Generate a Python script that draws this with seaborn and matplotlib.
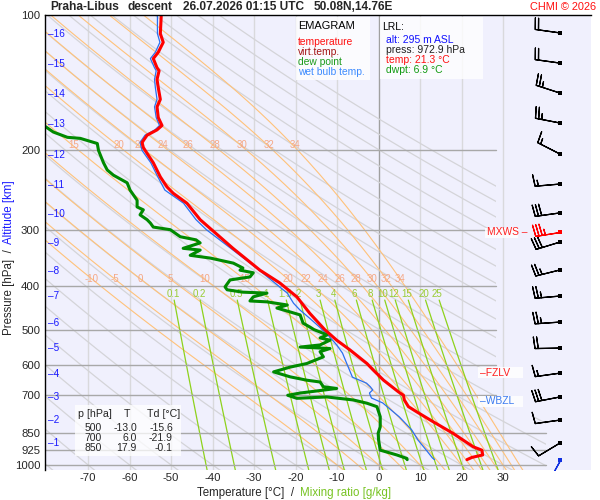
import numpy as np
import matplotlib
matplotlib.use("Agg")
import matplotlib.pyplot as plt
import matplotlib.transforms as mtransforms
from matplotlib.patches import Rectangle, PathPatch
from matplotlib.path import Path
import seaborn as sns

sns.set_style("white")
plt.rcParams['font.family'] = ['Liberation Sans', 'DejaVu Sans']

# ---------------- data ----------------
temp_p = [973, 962, 950, 927, 911, 850, 802, 762, 742, 717, 700, 688, 648, 615, 595,
          555, 528, 500, 460, 423, 394, 369, 330, 285, 262, 249, 241, 229, 213, 203,
          197, 192, 185, 180, 176, 169, 160, 154, 145, 139, 133, 131, 125, 121, 115,
          110, 101, 100]
temp_t = [21.3, 22.5, 25.1, 24.9, 22.8, 17.9, 13.2, 9.2, 7.2, 6.2, 6.0, 4.8, 1.2, -1.3, -2.8,
          -6.9, -10.1, -13.0, -16.6, -19.7, -23.8, -28.6, -35.1, -43.0, -46.2, -49.5, -51.0,
          -52.6, -54.3, -55.8, -56.7, -57.0, -55.8, -53.4, -52.2, -53.1, -53.4, -52.6, -53.1,
          -53.4, -52.9, -53.4, -54.3, -53.1, -51.9, -52.6, -52.4, -52.4]

dwpt_p = [973, 967, 950, 927, 880, 850, 823, 781, 742, 729, 717, 706, 711, 700, 692,
          676, 670, 654, 648, 637, 621, 606, 595, 575, 560, 551, 547, 541, 528, 522,
          514, 500, 494, 484, 464, 457, 448, 441, 434, 432, 423, 415, 413, 408, 402,
          388, 382, 374, 369, 365, 356, 347, 342, 333, 330, 321, 316, 311, 300, 296,
          290, 285, 278, 271, 267, 258, 245, 236, 227, 221, 213, 200, 193, 188, 187,
          182, 177, 172]
dwpt_t = [6.9, 6.8, 4.4, 0.4, 0.0, -0.1, 0.4, 0.4, -0.4, -2.8, -6.1, -12.5, -19.7, -21.9, -18.9,
          -10.1, -13.3, -14.1, -17.3, -21.3, -25.3, -21.3, -17.3, -13.3, -14.1, -11.7, -18.9,
          -14.1, -11.7, -14.1, -12.4, -15.6, -16.5, -18.2, -18.9, -21.3, -24.5, -22.0, -26.9,
          -31.0, -30.2, -26.9, -32.7, -36.5, -37.0, -35.8, -31.0, -30.2, -33.4, -32.7, -35.0,
          -40.5, -45.4, -43.0, -47.1, -43.0, -44.0, -47.8, -50.2, -54.3, -55.0, -55.8, -57.5,
          -56.7, -58.2, -58.2, -59.9, -60.6, -63.9, -65.4, -66.3, -67.5, -67.8, -71.9, -75.0,
          -78.4, -80.3, -84.0]

wetb_p = [973, 965, 927, 880, 836, 782, 728, 710, 700, 692, 681, 670, 658, 638, 594,
          564, 541, 519, 494, 472, 452, 437, 415, 394, 374, 350, 328, 300, 285, 262,
          245, 229, 213, 200, 192, 185, 180, 176, 169, 160, 154, 145, 139, 133, 131,
          125, 121, 115, 110, 100]
wetb_t = [13.5, 13.0, 11.5, 9.5, 8.0, 5.0, 1.0, -1.7, -2.0, -2.2, -1.4, -2.0, -2.9, -6.3, -7.7,
          -8.7, -10.1, -11.8, -14.2, -16.6, -19.0, -20.5, -22.0, -25.0, -28.0, -32.0, -36.0,
          -41.5, -44.0, -47.0, -51.5, -53.2, -54.9, -57.0, -57.5, -56.3, -53.9, -52.8, -53.6,
          -54.0, -53.4, -53.8, -54.0, -53.6, -54.0, -55.0, -53.8, -52.7, -53.3, -53.3]

alt_km = [1, 2, 3, 4, 5, 6, 7, 8, 9, 10, 11, 12, 13, 14, 15, 16]
alt_p = [893.6, 794.5, 706.0, 627.8, 549.9, 483.7, 421.3, 370.7, 321.2, 276.9, 238.7,
         204.7, 174.7, 149.8, 128.5, 110.2]

wind_p = [109.6, 127.9, 149.1, 173.8, 203.7, 237.5, 275.3, 319.6, 368.6, 421.3, 481.3,
          549.9, 625.0, 706.0, 794.7, 893.6]
wind_dir = [278, 278, 288, 281, 297, 265, 262, 253, 256, 265, 266, 269, 262, 259, 262, 239]
wind_spd = [20, 20, 25, 25, 15, 15, 30, 30, 25, 25, 25, 20, 15, 30, 10, 10]
mxws_p, mxws_dir, mxws_spd = 303.5, 261, 35
sfc_p, sfc_dir, sfc_spd = 972.9, 209, 5

fzlv_p = 625.0
wbzl_p = 721.0

x_ticks = [-70, -60, -50, -40, -30, -20, -10, 0, 10, 20, 30]
p_ticks = [100, 200, 300, 400, 500, 600, 700, 850, 925, 1000]
isobar_end = [28.3, 28.3, 28.3, 28.3, 28.3, 28.3, 40.3, 40.3, 40.3]  # for 200..1000

theta_dry_c = list(range(-80, 190, 10))
theta_w_c = [-10, -5, 0, 5, 10, 15, 20, 22, 24, 26, 28, 30, 32, 34]
mix_ratio = [0.1, 0.2, 0.5, 1, 1.5, 2, 3, 4, 6, 8, 10, 12, 15, 20, 25]
mix_labels = ['0.1', '0.2', '0.5', '1', '1.5', '2', '3', '4', '6', '8', '10', '12', '15', '20', '25']

tbl_p = [500, 700, 850]
tbl_t = [-13.0, 6.0, 17.9]
tbl_td = [-15.6, -21.9, -0.1]

# ---------------- figure ----------------
W, H = 600, 500
fig = plt.figure(figsize=(6, 5), dpi=100)
ax = fig.add_axes([45 / W, 30 / H, 546 / W, 455 / H])
ax.set_facecolor('#f0f0fd')
ax.set_yscale('log')
XL = (-80.4, 51.2)
YL = (1026, 100)

def px(x, y):
    return (x / W, 1 - y / H)

clip = PathPatch(Path([(-99, 90), (28.3, 90), (28.3, 780), (40.3, 780), (40.3, 1100),
                       (-99, 1100), (-99, 90)]), transform=ax.transData,
                 facecolor='none', edgecolor='none')
ax.add_patch(clip)

# isotherms
for t in x_ticks:
    ax.plot([t, t], [90, 1100], color='#a0a0a0' if t == 0 else '#d9d9dc', lw=1.0, zorder=1)

# dry adiabats
pg = np.geomspace(1100, 90, 400)
for th in theta_dry_c:
    T = (th + 273.15) * (pg / 1000.0) ** 0.2857 - 273.15
    ln, = ax.plot(T, pg, color='#d4d4d8', lw=0.9, zorder=1.2)
    ln.set_clip_path(clip)

# pseudo-adiabats (RK4)
def moist(thw):
    Rd, Cp, Lv, eps = 287.04, 1005.7, 2.501e6, 0.622
    def f(p, T):
        es = 6.112 * np.exp(17.67 * (T - 273.15) / (T - 29.65))
        rs = eps * es / (p - es)
        return (Rd * T + Lv * rs) / (p * (Cp + Lv * Lv * rs * eps / (Rd * T * T)))
    out = {}
    for direction, pend in ((-1.0, 90.0), (1.0, 1100.0)):
        T = np.array(thw, dtype=float) + 273.15
        p = 1000.0
        ps, Ts = [p], [T.copy()]
        h = direction * 1.0
        while (p > pend) if direction < 0 else (p < pend):
            k1 = f(p, T)
            k2 = f(p + h / 2, T + h / 2 * k1)
            k3 = f(p + h / 2, T + h / 2 * k2)
            k4 = f(p + h, T + h * k3)
            T = T + h / 6 * (k1 + 2 * k2 + 2 * k3 + k4)
            p += h
            ps.append(p)
            Ts.append(T.copy())
        out[direction] = (np.array(ps), np.array(Ts) - 273.15)
    pu, Tu = out[-1.0]
    pd_, Td_ = out[1.0]
    P = np.concatenate([pd_[::-1], pu[1:]])
    TT = np.concatenate([Td_[::-1], Tu[1:]], axis=0)
    return P, TT

Pm, Tm = moist(theta_w_c)
OR = '#ffc27a'
ORL = '#f5a886'
for i, tw in enumerate(theta_w_c):
    ln, = ax.plot(Tm[:, i], Pm, color=OR, lw=0.8, zorder=1.5)
    ln.set_clip_path(clip)
    pr = Pm[::-1]
    tr = Tm[::-1, i]
    t1 = np.interp(194, pr, tr)
    t2 = np.interp(386, pr, tr)
    if t1 > -77:
        ax.text(t1 + 0.6, 194, str(tw), color=ORL, fontsize=7, ha='center', va='center', zorder=2)
    ax.text(t2, 386, str(tw), color=ORL, fontsize=7, ha='center', va='center', zorder=2)

# mixing ratio lines
GR = '#8ed21c'
pmix = np.geomspace(430, 1100, 100)
for w, lab in zip(mix_ratio, mix_labels):
    e = w * pmix / (622.0 + w)
    L = np.log(e / 6.112)
    Td = 243.5 * L / (17.67 - L)
    ln, = ax.plot(Td, pmix, color=GR, lw=0.9, zorder=1.6)
    ln.set_clip_path(clip)
    e0 = w * 417 / (622.0 + w)
    L0 = np.log(e0 / 6.112)
    ax.text(243.5 * L0 / (17.67 - L0), 417, lab, color='#99cc33', fontsize=7,
            ha='center', va='center', zorder=2)

# isobars
for p, xe in zip(p_ticks[1:], isobar_end):
    ax.plot([XL[0], xe], [p, p], color='#a8a8a8', lw=1.0, zorder=2.5)

# profiles
sns.lineplot(x=wetb_t, y=wetb_p, sort=False, estimator=None, color='#2a6ff0', linewidth=0.9,
             ax=ax, zorder=4)
sns.lineplot(x=dwpt_t, y=dwpt_p, sort=False, estimator=None, color='#008a00', linewidth=2.2,
             ax=ax, zorder=5)
sns.lineplot(x=temp_t, y=temp_p, sort=False, estimator=None, color='#ff0000', linewidth=2.2,
             ax=ax, zorder=6)

# wind barbs
XB = (560 - 378.5) / 4.15
BL = 6.0
BS = dict(spacing=0.13, height=0.46, width=0.12, emptybarb=0.15)
def uv(d, s):
    r = np.deg2rad(np.array(d, dtype=float))
    s = np.array(s, dtype=float)
    return -s * np.sin(r), -s * np.cos(r)
u, v = uv(wind_dir, wind_spd)
ax.barbs([XB] * len(wind_p), wind_p, u, v, length=BL, sizes=BS, linewidth=0.9,
         color='black', zorder=7)
ax.scatter([XB] * len(wind_p), wind_p, marker='s', s=5, color='black', zorder=8, linewidths=0)
u1, v1 = uv([mxws_dir], [mxws_spd])
ax.barbs([XB], [mxws_p], u1, v1, length=BL, sizes=BS, linewidth=0.9, color='red', zorder=7)
ax.scatter([XB], [mxws_p], marker='s', s=5, color='red', zorder=8, linewidths=0)
u2, v2 = uv([sfc_dir], [sfc_spd])
ax.barbs([XB], [sfc_p], u2, v2, length=BL, sizes=BS, linewidth=0.9, color='#1030e0', zorder=7)
ax.scatter([XB], [sfc_p], marker='s', s=5, color='#1030e0', zorder=8, linewidths=0)

# axes styling
ax.set_xlim(*XL)
ax.set_ylim(*YL)
ax.set_xticks(x_ticks)
ax.set_xticklabels([str(t) for t in x_ticks])
ax.yaxis.set_minor_locator(matplotlib.ticker.NullLocator())
ax.set_yticks(p_ticks)
ax.set_yticklabels([str(p) for p in p_ticks])
ax.tick_params(axis='both', length=0, labelsize=8.2)
ax.tick_params(axis='x', pad=2)
ax.tick_params(axis='y', pad=3.5)
ax.set_xlabel('')
ax.set_ylabel('')
for s in ['bottom', 'right']:
    ax.spines[s].set_visible(False)
for s in ['left', 'top']:
    ax.spines[s].set_color('black')
    ax.spines[s].set_linewidth(1.0)
    ax.spines[s].set_zorder(9)

# altitude labels
bt = mtransforms.blended_transform_factory(fig.transFigure, ax.transData)
for km, p in zip(alt_km, alt_p):
    ax.text(48 / W, p, '\u2013' + str(km), transform=bt, color='#1a1aff', fontsize=7.2,
            ha='left', va='center', zorder=9)

# boxes
def rect(x0, y0, x1, y1, alpha=0.85, on_axes=False):
    r = Rectangle(px(x0, y1), (x1 - x0) / W, (y1 - y0) / H, transform=fig.transFigure,
                  facecolor='white', edgecolor='none', alpha=alpha, clip_on=False)
    if on_axes:
        r.set_zorder(8.5)
        ax.add_patch(r)
    else:
        r.set_zorder(2)
        fig.add_artist(r)

# level markers
rect(485, 228, 518, 238, on_axes=True)
ax.text(487 / W, mxws_p, 'MXWS \u2013', transform=bt, color='#ff2020', fontsize=7.4,
        ha='left', va='center', zorder=9)
rect(478, 367, 523, 378, on_axes=True)
ax.text(480 / W, fzlv_p, '\u2013FZLV', transform=bt, color='#ff2020', fontsize=7.4,
        ha='left', va='center', zorder=9)
rect(478, 396, 523, 407, on_axes=True)
ax.text(480 / W, wbzl_p, '\u2013WBZL', transform=bt, color='#3a7af0', fontsize=7.4,
        ha='left', va='center', zorder=9)

# legend box
rect(296, 17, 370, 80, alpha=0.8)
fig.text(*px(298, 26), 'EMAGRAM', fontsize=7.9, color='black', va='center', zorder=3)
for txt, col, yy in [('temperature', '#ff1010', 42), ('virt.temp.', '#a31515', 52),
                     ('dew point', '#1a9a1a', 62), ('wet bulb temp.', '#3d8bff', 72)]:
    fig.text(*px(298, yy), txt, fontsize=7.4, color=col, va='center', zorder=3)

# LRL box
rect(380, 17, 483, 79, alpha=0.8)
fig.text(*px(382, 27), 'LRL:', fontsize=7.5, color='black', va='center', zorder=3)
for txt, col, yy in [('alt: 295 m ASL', '#1010ff', 40), ('press: 972.9 hPa', '#202020', 50),
                     ('temp: 21.3 \u00b0C', '#ff1010', 60), ('dwpt: 6.9 \u00b0C', '#109a10', 70)]:
    fig.text(*px(386, yy), txt, fontsize=7.5, color=col, va='center', zorder=3)

# table
rect(75, 405, 181, 456, alpha=0.75)
fig.text(*px(78, 414), 'p [hPa]', fontsize=7.7, va='center', zorder=3)
fig.text(*px(127, 414), 'T', fontsize=7.7, va='center', ha='center', zorder=3)
fig.text(*px(147, 414), 'Td [\u00b0C]', fontsize=7.7, va='center', zorder=3)
for i, (p, t, td) in enumerate(zip(tbl_p, tbl_t, tbl_td)):
    yy = 428 + 10 * i
    fig.text(*px(102, yy), str(p), fontsize=7.5, va='center', ha='right', zorder=3)
    fig.text(*px(137, yy), f'{t:.1f}', fontsize=7.5, va='center', ha='right', zorder=3)
    fig.text(*px(173, yy), f'{td:.1f}', fontsize=7.5, va='center', ha='right', zorder=3)

# title
for txt, xx in [('Praha-Libus', 50), ('descent', 128), ('26.07.2026 01:15 UTC', 183),
                ('50.08N,14.76E', 314)]:
    fig.text(*px(xx, 7.5), txt, fontsize=8.6, fontweight='bold', va='center', ha='left')
fig.text(*px(596, 7.5), 'CHMI \u00a9 2026', fontsize=7.9, color='#ff1010', va='center', ha='right')

# two-colour axis labels
fig.canvas.draw()
rend = fig.canvas.get_renderer()
t1 = fig.text(*px(9, 335), 'Pressure [hPa]  /', rotation=90, rotation_mode='anchor',
              ha='left', va='center', fontsize=8.3)
bb = t1.get_window_extent(rend)
fig.text(9 / W, (bb.y1 + 5) / H, 'Altitude [km]', rotation=90, rotation_mode='anchor',
         ha='left', va='center', fontsize=8.3, color='#1a1aff')
t3 = fig.text(*px(197, 493), 'Temperature [\u00b0C]  /', ha='left', va='center', fontsize=8.3)
bb3 = t3.get_window_extent(rend)
fig.text((bb3.x1 + 6) / W, 1 - 493 / H, 'Mixing ratio [g/kg]', ha='left', va='center',
         fontsize=8.3, color='#77c322')

fig.savefig('out.png', dpi=100, facecolor='white')
